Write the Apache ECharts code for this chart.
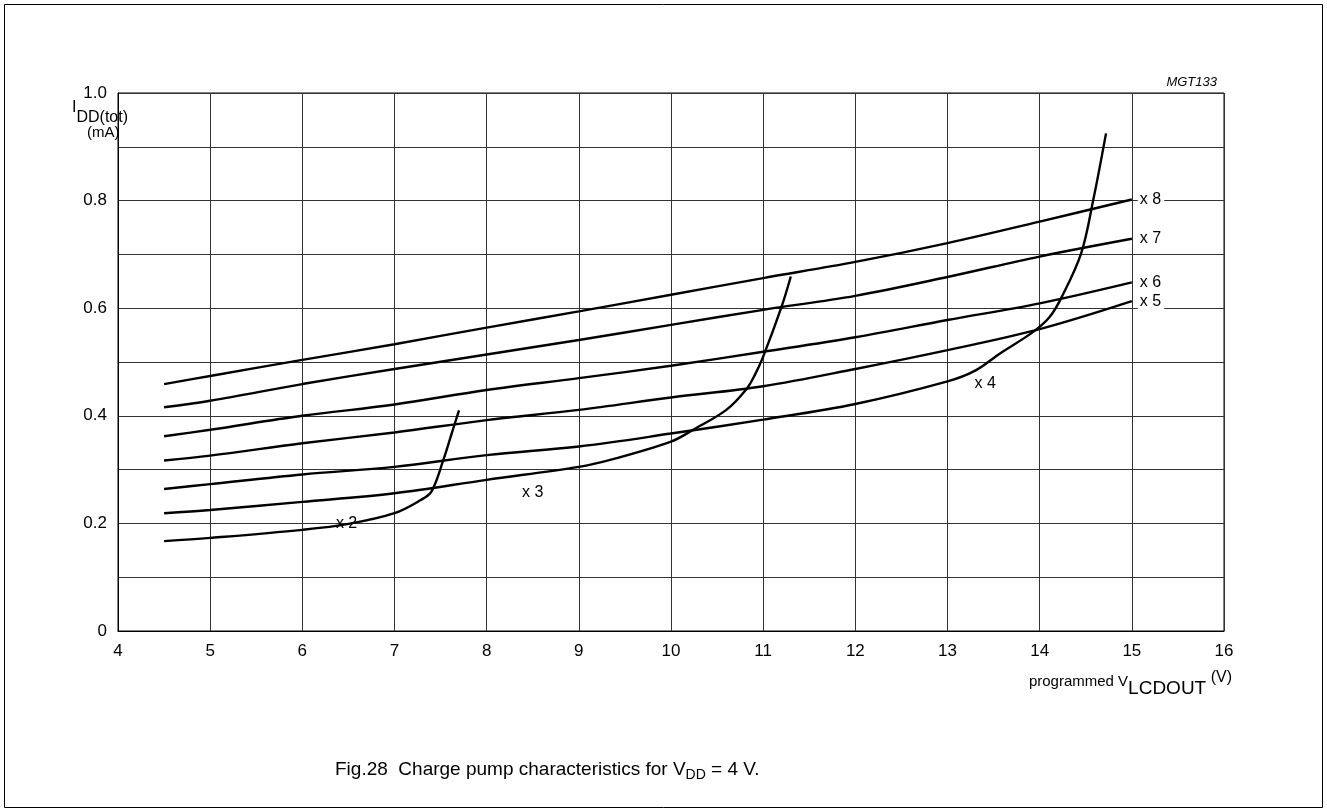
<!DOCTYPE html>
<html>
<head>
<meta charset="utf-8">
<script src="https://cdn.jsdelivr.net/npm/echarts@6/dist/echarts.min.js"></script>
<style>
  html, body { margin: 0; padding: 0; background: #fff; }
  #main { width: 1327px; height: 812px; }
</style>
</head>
<body>
<div id="main"></div>
<script>
// 直线族 x5..x8 的横坐标
const lineX = [4.5, 5, 6, 7, 8, 9, 10, 11, 12, 13, 14, 15];
const x8Vals = [0.459, 0.474, 0.504, 0.533, 0.564, 0.594, 0.625, 0.656, 0.686, 0.721, 0.761, 0.802];
const x7Vals = [0.416, 0.428, 0.459, 0.487, 0.514, 0.541, 0.569, 0.597, 0.623, 0.658, 0.696, 0.729];
const x6Vals = [0.362, 0.374, 0.400, 0.421, 0.448, 0.470, 0.493, 0.519, 0.546, 0.578, 0.609, 0.648];
const x5Vals = [0.317, 0.326, 0.349, 0.369, 0.392, 0.411, 0.434, 0.455, 0.487, 0.522, 0.561, 0.613];

// 拐点曲线 x2..x4
const x4X = [4.5, 5, 6, 7, 8, 9, 10, 11, 12, 13, 13.3, 13.57, 13.93, 14.11, 14.24, 14.45, 14.58, 14.72];
const x4Vals = [0.264, 0.273, 0.291, 0.305, 0.327, 0.343, 0.367, 0.393, 0.422, 0.464, 0.484, 0.516, 0.556, 0.584, 0.621, 0.702, 0.80, 0.925];
const x3X = [4.5, 5, 6, 7, 8, 9, 9.34, 10, 10.24, 10.6, 10.82, 10.91, 11, 11.2, 11.3];
const x3Vals = [0.219, 0.225, 0.240, 0.256, 0.281, 0.305, 0.318, 0.352, 0.374, 0.411, 0.450, 0.476, 0.51, 0.603, 0.659];
const x2X = [4.5, 5, 6, 6.5, 7, 7.28, 7.40, 7.53, 7.62, 7.70];
const x2Vals = [0.167, 0.173, 0.188, 0.199, 0.219, 0.243, 0.259, 0.318, 0.367, 0.41];

// 曲线标注
const curveLabels = [
  { name: 'x 2', coord: [6.48, 0.2] },
  { name: 'x 3', coord: [8.5, 0.257] },
  { name: 'x 4', coord: [13.41, 0.459] }
];

const font = 'Liberation Sans, Arial, sans-serif';

function pairs(xs, ys) {
  return xs.map((x, i) => [x, ys[i]]);
}

function txt(size, extra) {
  return Object.assign({ fontFamily: font, fontSize: size, fontWeight: 'normal', color: '#000' }, extra || {});
}

function curve(name, xs, ys, withEnd, labelIdx) {
  const s = {
    name: name,
    type: 'line',
    data: pairs(xs, ys),
    smooth: 0.35,
    showSymbol: false,
    silent: true,
    lineStyle: { color: '#000', width: 2.4 },
    z: 3
  };
  if (withEnd) {
    s.endLabel = {
      show: true,
      formatter: name,
      color: '#000',
      fontFamily: font,
      fontSize: 16,
      distance: 6,
      backgroundColor: '#fff',
      padding: [0, 3, 0, 2]
    };
  }
  if (labelIdx !== undefined) {
    const lb = curveLabels[labelIdx];
    s.markPoint = {
      symbol: 'circle',
      symbolSize: 0,
      silent: true,
      label: { show: true, position: 'inside', formatter: lb.name, color: '#000', fontFamily: font, fontSize: 16 },
      data: [{ coord: lb.coord }]
    };
  }
  return s;
}

const myChart = echarts.init(document.getElementById('main'));
myChart.setOption({
  backgroundColor: '#fff',
  animation: false,
  title: [
    {
      text: '{a|I}{b|DD(tot)}\n{c|(mA)}',
      left: 67,
      top: 95,
      textStyle: {
        fontWeight: 'normal',
        rich: {
          a: txt(16, { lineHeight: 24, verticalAlign: 'top' }),
          b: txt(16, { lineHeight: 24, padding: [12, 0, 0, 0] }),
          c: txt(15, { lineHeight: 18, padding: [0, 0, 0, 15] })
        }
      }
    },
    {
      text: 'MGT133',
      right: 105,
      top: 71,
      textStyle: txt(13, { fontStyle: 'italic' })
    },
    {
      text: '{a|programmed V}{b|LCDOUT}{c| (V)}',
      right: 90,
      top: 660,
      textStyle: {
        fontWeight: 'normal',
        rich: {
          a: txt(15),
          b: txt(19, { padding: [14, 0, 0, 0] }),
          c: txt(16, { padding: [0, 0, 8, 0] })
        }
      }
    },
    {
      text: '{a|Fig.28  Charge pump characteristics for V}{b|DD}{a| = 4 V.}',
      left: 330,
      top: 752,
      textStyle: {
        fontWeight: 'normal',
        rich: {
          a: txt(19),
          b: txt(14, { padding: [11, 0, 0, 0] })
        }
      }
    }
  ],
  graphic: [
    {
      type: 'rect',
      shape: { x: 4.5, y: 4.5, width: 1318, height: 803 },
      style: { fill: 'none', stroke: '#000', lineWidth: 1 },
      silent: true
    }
  ],
  grid: {
    left: 118,
    right: 103,
    top: 93,
    bottom: 181,
    show: true,
    borderColor: '#000',
    borderWidth: 1
  },
  xAxis: {
    type: 'value',
    min: 4,
    max: 16,
    interval: 1,
    axisLine: { show: true, lineStyle: { color: '#000', width: 1 } },
    axisTick: { show: false },
    axisLabel: { color: '#000', fontFamily: font, fontSize: 17, margin: 12 },
    splitLine: { show: true, lineStyle: { color: '#333', width: 1 } }
  },
  yAxis: {
    type: 'value',
    min: 0,
    max: 1,
    interval: 0.1,
    axisLine: { show: true, lineStyle: { color: '#000', width: 1 } },
    axisTick: { show: false },
    axisLabel: {
      color: '#000',
      fontFamily: font,
      fontSize: 17,
      margin: 11,
      formatter: function (v) {
        const k = Math.round(v * 10);
        if (k % 2) return '';
        return k === 0 ? '0' : (k / 10).toFixed(1);
      }
    },
    splitLine: { show: true, lineStyle: { color: '#333', width: 1 } }
  },
  series: [
    curve('x 8', lineX, x8Vals, true),
    curve('x 7', lineX, x7Vals, true),
    curve('x 6', lineX, x6Vals, true),
    curve('x 5', lineX, x5Vals, true),
    curve('x 4', x4X, x4Vals, false, 2),
    curve('x 3', x3X, x3Vals, false, 1),
    curve('x 2', x2X, x2Vals, false, 0)
  ]
});
window.onresize = myChart.resize;
</script>
</body>
</html>
